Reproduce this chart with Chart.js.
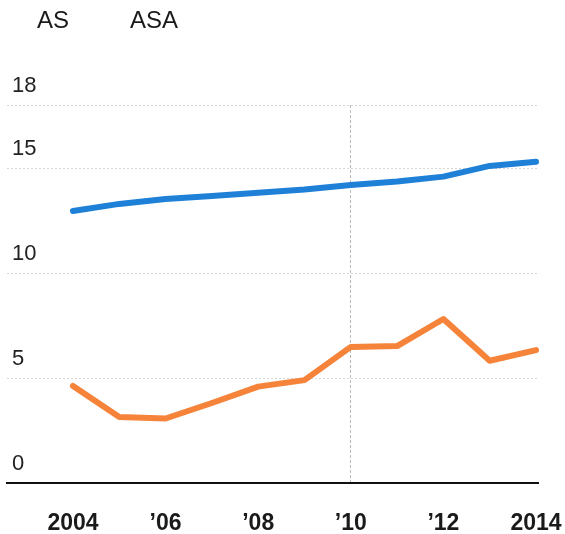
<!DOCTYPE html>
<html>
<head>
<meta charset="utf-8">
<script src="https://cdn.jsdelivr.net/npm/chart.js@4/dist/chart.umd.min.js"></script>
<style>
  body { margin: 0; background: #fff; }
  #wrap { position: relative; width: 565px; height: 534px; }
  .key { position: absolute; top: 8px; font: 24px/24px "Liberation Sans", Arial, sans-serif; color: #1a1a1a; }
</style>
</head>
<body>
<div id="wrap">
  <div class="key" style="left:37px">AS</div>
  <div class="key" style="left:130px">ASA</div>
  <canvas id="chart" width="565" height="534"></canvas>
</div>
<script>
// yearly values, 2004-2014
const years = [2004, 2005, 2006, 2007, 2008, 2009, 2010, 2011, 2012, 2013, 2014]
const blueValues = [12.95, 13.29, 13.52, 13.67, 13.82, 13.98, 14.19, 14.36, 14.59, 15.1, 15.3]
const orangeValues = [4.62, 3.14, 3.07, 3.81, 4.59, 4.9, 6.48, 6.52, 7.81, 5.82, 6.33]
const yTicks = [0, 5, 10, 15, 18]
const xTicks = [2004, 2006, 2008, 2010, 2012, 2014]

const fontFamily = '"Liberation Sans", Arial, sans-serif'

const toPoints = values => values.map((v, i) => ({ x: years[i], y: v }))

const lineStyle = color => ({
  borderColor: color,
  borderWidth: 6,
  borderCapStyle: 'round',
  borderJoinStyle: 'round',
  pointRadius: 0,
  tension: 0,
  clip: false
})

new Chart(document.getElementById('chart'), {
  type: 'line',
  data: {
    datasets: [
      { label: 'AS', data: toPoints(blueValues), ...lineStyle('#1f80d8') },
      { label: 'ASA', data: toPoints(orangeValues), ...lineStyle('#f5843a') }
    ]
  },
  options: {
    responsive: false,
    animation: false,
    layout: { padding: { top: 105, left: 7, right: 27, bottom: 0 } },
    plugins: { legend: { display: false }, tooltip: { enabled: false } },
    scales: {
      x: {
        type: 'linear',
        min: 2002.575,
        max: 2014.043,
        afterBuildTicks: scale => { scale.ticks = xTicks.map(v => ({ value: v })) },
        afterFit: scale => {
          scale.height = 51
          // labels may hang past the plot edge, no extra padding wanted
          scale.paddingLeft = 0
          scale.paddingRight = 0
        },
        ticks: {
          padding: 27,
          color: '#1a1a1a',
          font: { family: fontFamily, size: 23, weight: 'bold' },
          callback: v => (v === 2004 || v === 2014) ? String(v) : '\u2019' + String(v).slice(2)
        },
        grid: {
          drawTicks: false,
          color: ctx => (ctx.tick && ctx.tick.value === 2010) ? '#b8b8b8' : 'rgba(0,0,0,0)',
          lineWidth: 1
        },
        border: { display: true, color: '#111', width: 2, dash: [3, 2] }
      },
      y: {
        min: 0,
        max: 18,
        afterBuildTicks: scale => { scale.ticks = yTicks.map(v => ({ value: v })) },
        afterFit: scale => { scale.width = 0 },
        ticks: {
          mirror: true,
          padding: 5,
          labelOffset: -19,
          color: '#222',
          font: { family: fontFamily, size: 22 }
        },
        grid: {
          drawTicks: false,
          color: ctx => (ctx.tick && ctx.tick.value === 0) ? 'rgba(0,0,0,0)' : '#d6d6d6',
          lineWidth: 1
        },
        border: { display: false, dash: [2, 2] }
      }
    }
  }
})
</script>
</body>
</html>
